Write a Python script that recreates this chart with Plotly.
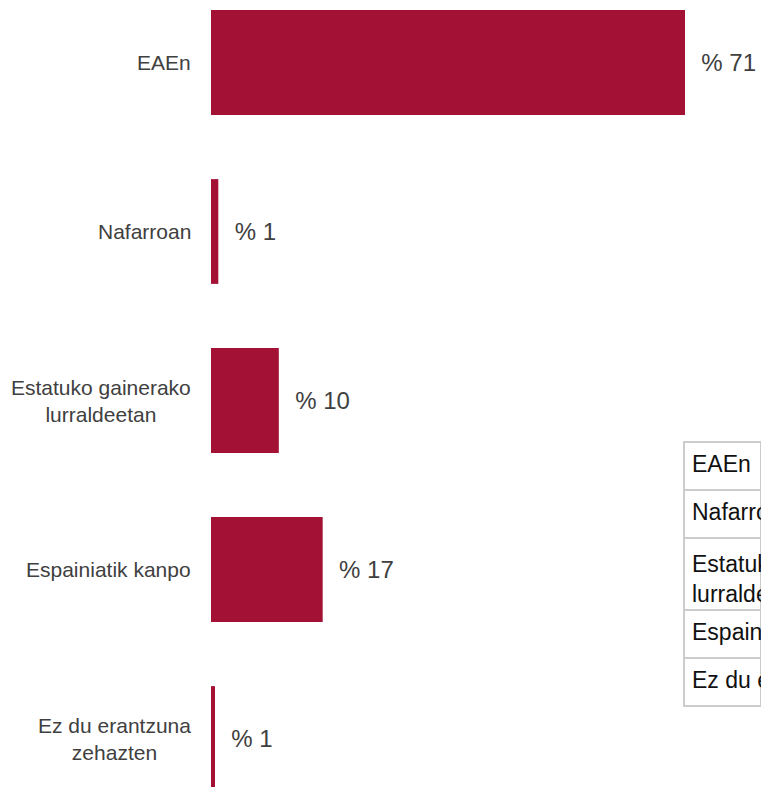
import plotly.graph_objects as go

# Survey categories (top to bottom) and their shares in percent
categories = [
    "EAEn",
    "Nafarroan",
    "Estatuko gainerako<br>lurraldeetan",
    "Espainiatik kanpo",
    "Ez du erantzuna<br>zehazten",
]
shares = [71.3, 1.1, 10.2, 16.8, 0.6]

# Labels used in the side table (non-breaking spaces keep each label on one line)
table_labels = [
    "EAEn",
    "Nafarroan",
    "Estatuko\u00a0gainerako<br>lurraldeetan",
    "Espainiatik\u00a0kanpo",
    "Ez\u00a0du\u00a0erantzuna\u00a0zehazten",
]

BAR_COLOR = "#A31235"
TEXT_COLOR = "#404040"
GRID_COLOR = "#CCCCCC"
FONT = "Liberation Sans, Arial, sans-serif"

W, H = 761, 787
LEFT = 211

value_text = ["\u00a0\u00a0% {:d}".format(int(v + 0.5)) for v in shares]

fig = go.Figure()

fig.add_trace(go.Bar(
    x=shares,
    y=categories,
    orientation="h",
    marker=dict(color=BAR_COLOR, line=dict(width=0)),
    width=0.62,
    text=value_text,
    textposition="outside",
    textfont=dict(size=24, color=TEXT_COLOR, family=FONT),
    cliponaxis=False,
    hoverinfo="skip",
))

# Category labels, centred on multiple lines, placed left of the bars
for cat in categories:
    fig.add_annotation(
        x=0, xref="paper", xanchor="right", xshift=-18,
        y=cat, yref="y", yanchor="middle",
        text=cat, align="center", showarrow=False,
        font=dict(size=21, color=TEXT_COLOR, family=FONT),
    )

# Summary table at the lower right: one layer draws the grid, a second
# layer (nudged down a few pixels) draws the text centred in the rows.
plot_w = W - LEFT
tbl_x = [(684 - LEFT) / plot_w, 1.0]
tbl_top = 442
row_h = 48
text_nudge = 5
tbl_font = 23

# the grid layer only needs the line structure of each label to size its rows
grid_labels = ["<br>".join("\u00a0" for _ in lbl.split("<br>")) if "<br>" in lbl else ""
               for lbl in table_labels]


def table_layer(labels, top_px, font_color, line_color, fill_color):
    style = dict(
        align="left",
        height=row_h,
        fill=dict(color=fill_color),
        line=dict(color=line_color, width=2),
        font=dict(size=tbl_font, color=font_color, family=FONT),
    )
    return go.Table(
        domain=dict(x=tbl_x, y=[0.0, 1 - top_px / H]),
        columnwidth=[1],
        header=dict(values=[labels[0]], **style),
        cells=dict(values=[labels[1:]], **style),
        hoverinfo="skip",
    )


fig.add_trace(table_layer(grid_labels, tbl_top, "rgba(0,0,0,0)", GRID_COLOR, "white"))
fig.add_trace(table_layer(table_labels, tbl_top + text_nudge, "#111111",
                          "rgba(0,0,0,0)", "rgba(0,0,0,0)"))

px_per_unit = (685 - LEFT) / shares[0]
x_max = plot_w / px_per_unit

row_px = 169.0
top_idx = -62.5 / row_px
bottom_idx = top_idx + H / row_px

fig.update_layout(
    width=W, height=H,
    margin=dict(l=LEFT, r=0, t=0, b=0),
    paper_bgcolor="white",
    plot_bgcolor="white",
    showlegend=False,
    font=dict(family=FONT, color=TEXT_COLOR),
    xaxis=dict(range=[0, x_max], visible=False, showgrid=False, zeroline=False),
    yaxis=dict(
        categoryorder="array", categoryarray=categories,
        range=[bottom_idx, top_idx],
        showticklabels=False, showgrid=False, zeroline=False, showline=False,
    ),
)

fig.write_html("out.html")
